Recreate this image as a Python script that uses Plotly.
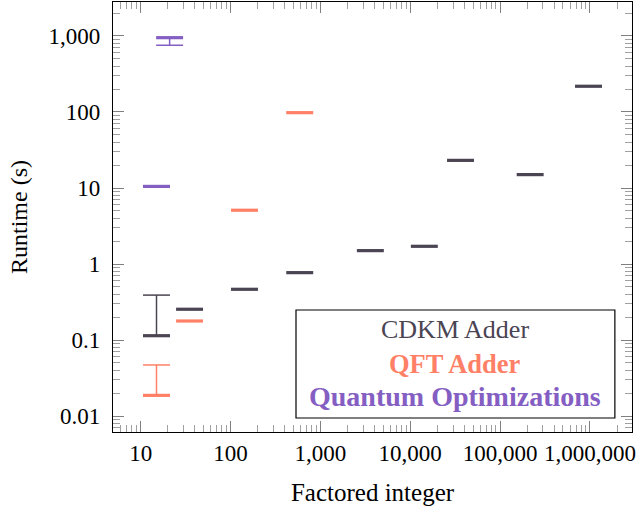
import plotly.graph_objects as go

# ---------------- data ----------------
cdkm_n = [15, 35, 143, 589, 3599, 14351, 36287, 216091, 964009]
cdkm_median = [0.114, 0.254, 0.465, 0.77, 1.50, 1.71, 23.1, 15.0, 218]
cdkm_whisker = [0.39, None, None, None, None, None, None, None, None]

qft_n = [15, 35, 143, 589]
qft_median = [0.0187, 0.178, 5.1, 98]
qft_whisker = [0.047, None, None, None]

opt_n = [15, 21]
opt_median = [10.5, 950]
opt_whisker = [None, 755]

series_names = ["CDKM Adder", "QFT Adder", "Quantum Optimizations"]
series_colors = ["#4B4453", "#FF8066", "#845EC2"]

x_tickvals = [10, 100, 1000, 10000, 100000, 1000000]
x_ticktext = ["10", "100", "1,000", "10,000", "100,000", "1,000,000"]
y_tickvals = [0.01, 0.1, 1, 10, 100, 1000]
y_ticktext = ["0.01", "0.1", "1", "10", "100", "1,000"]

FONT = "Liberation Serif"
HALF = 10 ** 0.15  # half box width as a factor on the log axis

fig = go.Figure()

def add_series(ns, med, wh, color, name):
    bx, by, wx, wy = [], [], [], []
    for n, m, w in zip(ns, med, wh):
        bx += [n / HALF, n * HALF, None]
        by += [m, m, None]
        if w is not None:
            wx += [n, n, None, n / HALF, n * HALF, None]
            wy += [m, w, None, w, w, None]
    fig.add_trace(go.Scatter(x=bx, y=by, mode="lines", name=name,
                             line=dict(color=color, width=3.2), showlegend=False,
                             hoverinfo="skip"))
    if wx:
        fig.add_trace(go.Scatter(x=wx, y=wy, mode="lines", name=name,
                                 line=dict(color=color, width=1.5), showlegend=False,
                                 hoverinfo="skip"))

add_series(cdkm_n, cdkm_median, cdkm_whisker, series_colors[0], series_names[0])
add_series(qft_n, qft_median, qft_whisker, series_colors[1], series_names[1])
add_series(opt_n, opt_median, opt_whisker, series_colors[2], series_names[2])

axis_common = dict(
    type="log", showline=True, linecolor="black", linewidth=1.2, mirror="allticks",
    ticks="inside", ticklen=11, tickcolor="#808080", tickwidth=1,
    showgrid=False, zeroline=False, automargin=False,
    tickfont=dict(family=FONT, size=23, color="black"),
    minor=dict(ticks="inside", ticklen=7, tickcolor="#a0a0a0", tickwidth=1,
               dtick="D1", showgrid=False),
)

fig.update_xaxes(**axis_common, range=[0.692, 6.468], tickmode="array",
                 tickvals=x_tickvals, ticktext=x_ticktext,
                 title=dict(text="Factored integer", font=dict(family=FONT, size=25, color="black"),
                            standoff=18))
fig.update_yaxes(**axis_common, range=[-2.21, 3.447], tickmode="array",
                 tickvals=y_tickvals, ticktext=y_ticktext, ticklabelstandoff=7,
                 title=dict(text="Runtime (s)", font=dict(family=FONT, size=24, color="black"),
                            standoff=14))

# legend box with coloured text entries
lx0, lx1, ly0, ly1 = 0.3526, 0.967, 0.0326, 0.2837
fig.add_shape(type="rect", xref="paper", yref="paper", x0=lx0, x1=lx1, y0=ly0, y1=ly1,
              line=dict(color="black", width=1.2), fillcolor="white", layer="above")
entry_y = [0.238, 0.158, 0.083]
entry_size = [26, 26.5, 28]
for name, color, yy, bold, sz in zip(series_names, series_colors, entry_y,
                                     [False, True, True], entry_size):
    txt = f"<b>{name}</b>" if bold else name
    fig.add_annotation(xref="paper", yref="paper", x=(lx0 + lx1) / 2, y=yy, text=txt,
                       showarrow=False, xanchor="center", yanchor="middle",
                       font=dict(family=FONT, size=sz, color=color))

fig.update_layout(
    width=642, height=511,
    margin=dict(l=113, r=10, t=2, b=79),
    plot_bgcolor="white", paper_bgcolor="white",
    showlegend=False,
)

fig.write_html("out.html", config={"displayModeBar": False},
               post_script="document.body.style.margin='0px';")
